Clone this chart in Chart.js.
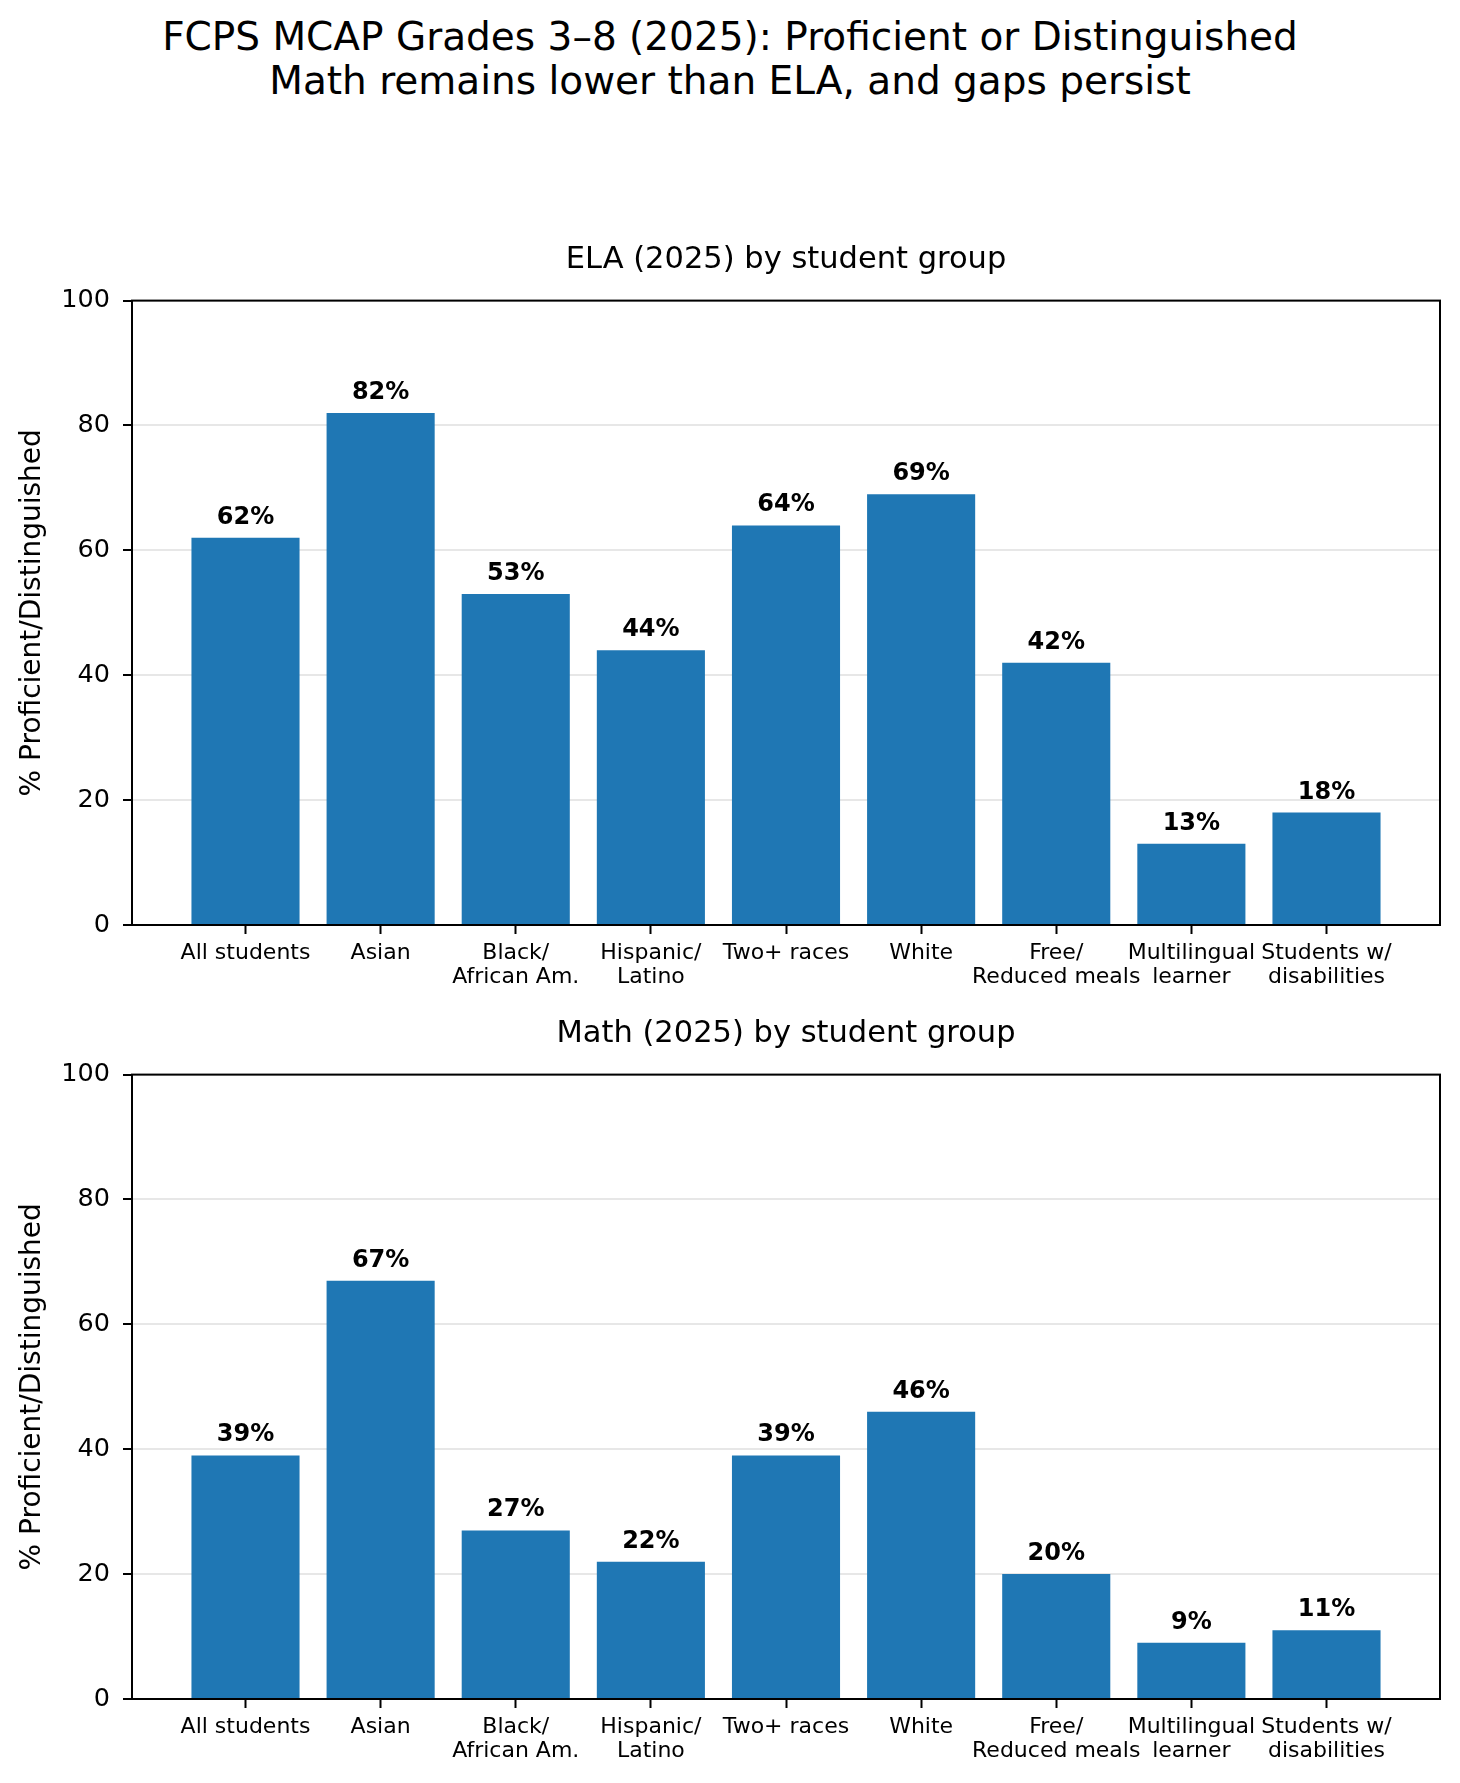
<!DOCTYPE html>
<html>
<head>
<meta charset="utf-8">
<script src="https://cdn.jsdelivr.net/npm/chart.js@4.4.1/dist/chart.umd.min.js"></script>
<style>
body { margin: 0; background: #fff; width: 1460px; height: 1783px; position: relative; overflow: hidden; }
#suptitle { position: absolute; left: 0; top: 15px; width: 1460px; text-align: center;
  font-family: 'DejaVu Sans'; font-size: 39px; line-height: 44px; color: #000; }
canvas { position: absolute; left: 0; }
</style>
</head>
<body>
<div id="suptitle">FCPS MCAP Grades 3–8 (2025): Proficient or Distinguished<br>Math remains lower than ELA, and gaps persist</div>
<canvas id="ela" width="1460" height="800" style="top:200px"></canvas>
<canvas id="math" width="1460" height="800" style="top:974px"></canvas>
<script>
var groups = [
  ['All students'], ['Asian'], ['Black/', 'African Am.'], ['Hispanic/', 'Latino'],
  ['Two+ races'], ['White'], ['Free/', 'Reduced meals'], ['Multilingual', 'learner'],
  ['Students w/', 'disabilities']
];
var ela = [62, 82, 53, 44, 64, 69, 42, 13, 18];
var math = [39, 67, 27, 22, 39, 46, 20, 9, 11];
var yTicks = [0, 20, 40, 60, 80, 100];

Chart.defaults.font.family = 'DejaVu Sans';
Chart.defaults.color = '#000';

// box round the plot, like matplotlib spines
var frame = {
  id: 'frame',
  afterDraw(chart) {
    var a = chart.chartArea, c = chart.ctx;
    c.save();
    c.strokeStyle = '#000';
    c.lineWidth = 2;
    c.strokeRect(a.left, a.top, a.right - a.left, a.bottom - a.top);
    c.restore();
  }
};

// bold percent text over each bar
var valueLabels = {
  id: 'valueLabels',
  afterDraw(chart) {
    var c = chart.ctx;
    var vals = chart.data.datasets[0].data;
    c.save();
    c.font = 'bold 24px "DejaVu Sans"';
    c.fillStyle = '#000';
    c.textAlign = 'center';
    c.textBaseline = 'alphabetic';
    chart.getDatasetMeta(0).data.forEach(function (bar, i) {
      c.fillText(vals[i].y + '%', bar.x, bar.y - 14);
    });
    c.restore();
  }
};

var pad = 0.05 * (groups.length - 1 + 0.8);

function makeChart(id, title, values) {
  return new Chart(document.getElementById(id), {
    type: 'bar',
    data: {
      datasets: [{
        data: values.map(function (v, i) { return { x: i, y: v }; }),
        backgroundColor: '#1f77b4',
        categoryPercentage: 1,
        barPercentage: 0.8
      }]
    },
    options: {
      responsive: false,
      animation: false,
      layout: { padding: { left: 0, right: 20, top: 0, bottom: 0 } },
      plugins: {
        legend: { display: false },
        tooltip: { enabled: false },
        title: {
          display: true,
          text: title,
          fullSize: false,
          font: { size: 30.5, weight: 'normal' },
          padding: { top: 42, bottom: 22 }
        }
      },
      scales: {
        x: {
          type: 'linear',
          offset: false,
          min: -0.4 - pad,
          max: groups.length - 1 + 0.4 + pad,
          afterFit: function (s) { s.height = 75; },
          afterBuildTicks: function (s) { s.ticks = groups.map(function (g, i) { return { value: i }; }); },
          grid: { offset: false, drawOnChartArea: false, tickLength: 9, tickColor: '#000', tickWidth: 2 },
          border: { color: '#000', width: 2 },
          ticks: {
            autoSkip: false, maxRotation: 0, minRotation: 0, padding: 7,
            font: { size: 22, lineHeight: 1.1 },
            callback: function (v) { return groups[v]; }
          }
        },
        y: {
          z: 1,
          min: yTicks[0],
          max: yTicks[yTicks.length - 1],
          afterFit: function (s) { s.width = 132; },
          afterBuildTicks: function (s) { s.ticks = yTicks.map(function (t) { return { value: t }; }); },
          grid: { color: 'rgba(176,176,176,0.3)', lineWidth: 2, tickLength: 9, tickColor: '#000', tickWidth: 2 },
          border: { color: '#000', width: 2 },
          ticks: { padding: 13, font: { size: 25.5 } },
          title: {
            display: true,
            text: '% Proficient/Distinguished',
            font: { size: 28 },
            padding: { top: 16, bottom: 0 }
          }
        }
      }
    },
    plugins: [frame, valueLabels]
  });
}

makeChart('ela', 'ELA (2025) by student group', ela);
makeChart('math', 'Math (2025) by student group', math);
</script>
</body>
</html>
